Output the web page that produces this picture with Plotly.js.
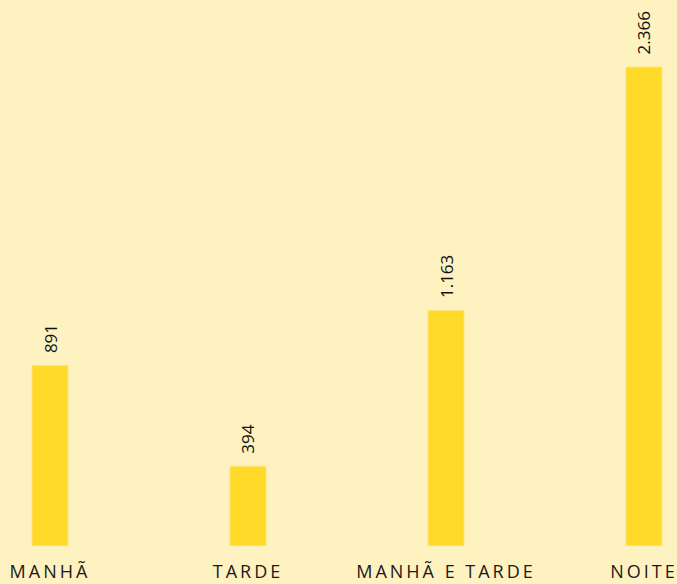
<!DOCTYPE html>
<html>
<head>
<meta charset="utf-8">
<script src="https://cdn.plot.ly/plotly-3.0.1.min.js"></script>
<style>
html,body{margin:0;padding:0;background:#FEF2C1;}
#chart{width:677px;height:584px;}
.xtick text{letter-spacing:3px;}
</style>
</head>
<body>
<div id="chart"></div>
<script>
const categories = ["MANHÃ", "TARDE", "MANHÃ E TARDE", "NOITE"];
const values = [891, 394, 1163, 2366];
const valueLabels = ["891", "394", "1.163", "2.366"];

const trace = {
  type: "bar",
  x: categories,
  y: values,
  width: 0.182,
  marker: {color: "#FFDA29", line: {color: "#FFE57A", width: 1}},
  hoverinfo: "none"
};

const annotations = categories.map((c, i) => ({
  x: c, y: values[i], xref: "x", yref: "y",
  text: valueLabels[i],
  textangle: -90,
  showarrow: false,
  xanchor: "center", yanchor: "bottom",
  yshift: 11,
  font: {family: "Open Sans, sans-serif", size: 17, color: "#111"}
}));

const layout = {
  width: 677, height: 584,
  margin: {l: 0, r: 0, t: 0, b: 38},
  paper_bgcolor: "#FEF2C1",
  plot_bgcolor: "#FEF2C1",
  showlegend: false,
  annotations: annotations,
  xaxis: {
    type: "category",
    range: [-0.2525, 3.1667],
    showgrid: false, zeroline: false, showline: false,
    ticks: "", ticklabelstandoff: 13,
    tickfont: {family: "Open Sans, sans-serif", size: 18, color: "#1a1a1a"}
  },
  yaxis: {
    range: [0, 2697],
    showgrid: false, zeroline: false, showline: false,
    showticklabels: false, ticks: ""
  }
};

Plotly.newPlot("chart", [trace], layout, {staticPlot: true, displayModeBar: false});
</script>
</body>
</html>
